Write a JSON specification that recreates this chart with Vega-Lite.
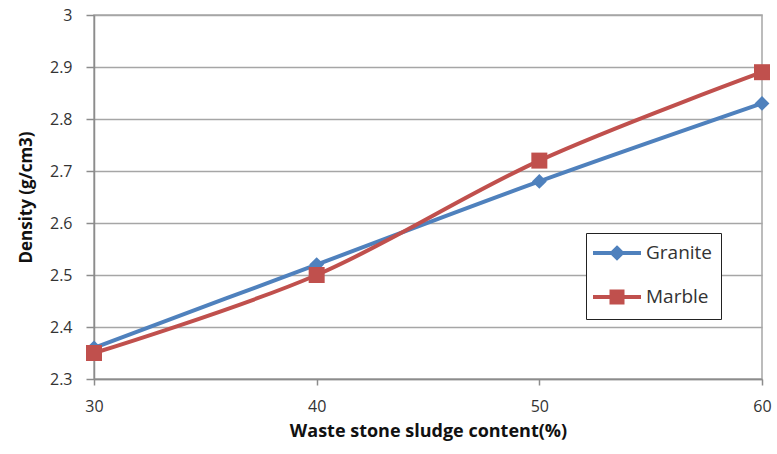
{
  "$schema": "https://vega.github.io/schema/vega-lite/v6.json",
  "width": 668,
  "height": 364,
  "autosize": {"type": "none"},
  "padding": {"left": 94, "top": 15, "right": 15, "bottom": 75},
  "background": "white",
  "config": {
    "font": "Open Sans",
    "view": {"stroke": "#a6a6a6", "strokeWidth": 1.5},
    "axis": {
      "labelFont": "Open Sans",
      "labelFontSize": 16,
      "labelColor": "#333333",
      "titleFont": "Open Sans",
      "titleFontSize": 18,
      "titleFontWeight": "bold",
      "titleColor": "#111111",
      "domainColor": "#8c8c8c",
      "domainWidth": 1.5,
      "tickColor": "#8c8c8c",
      "tickWidth": 1.5,
      "gridColor": "#a6a6a6",
      "gridWidth": 1.5
    }
  },
  "data": {
    "values": [
      {"content": 30, "density": 2.36, "series": "Granite"},
      {"content": 40, "density": 2.52, "series": "Granite"},
      {"content": 50, "density": 2.68, "series": "Granite"},
      {"content": 60, "density": 2.83, "series": "Granite"},
      {"content": 30, "density": 2.35, "series": "Marble"},
      {"content": 40, "density": 2.50, "series": "Marble"},
      {"content": 50, "density": 2.72, "series": "Marble"},
      {"content": 60, "density": 2.89, "series": "Marble"}
    ]
  },
  "encoding": {
    "x": {
      "field": "content",
      "type": "quantitative",
      "scale": {"domain": [30, 60], "nice": false, "zero": false},
      "axis": {
        "values": [30, 40, 50, 60],
        "grid": false,
        "tickSize": 6,
        "labelFlush": false,
        "labelPadding": 13,
        "titlePadding": 8,
        "title": "Waste stone sludge content(%)"
      }
    },
    "y": {
      "field": "density",
      "type": "quantitative",
      "scale": {"domain": [2.3, 3], "nice": false, "zero": false},
      "axis": {
        "values": [2.3, 2.4, 2.5, 2.6, 2.7, 2.8, 2.9, 3],
        "format": ".1~f",
        "tickSize": 8,
        "labelFlush": false,
        "labelPadding": 14,
        "titlePadding": 14,
        "titleFontSize": 17,
        "title": "Density (g/cm3)"
      }
    },
    "color": {
      "field": "series",
      "type": "nominal",
      "scale": {"domain": ["Granite", "Marble"], "range": ["#4F81BD", "#C0504D"]},
      "legend": {
        "title": null,
        "orient": "none",
        "legendX": 492,
        "legendY": 218,
        "direction": "vertical",
        "strokeColor": "#222222",
        "fillColor": "white",
        "padding": 8,
        "rowPadding": 17,
        "symbolSize": 400,
        "symbolStrokeWidth": 4,
        "symbolOffset": 11,
        "labelOffset": 17,
        "labelFont": "Open Sans",
        "labelFontSize": 19,
        "labelColor": "#333333",
        "encode": {
          "symbols": {
            "update": {
              "shape": {"signal": "datum.value === 'Granite' ? 'M-2.4,0H2.4M0,-0.5L0.5,0L0,0.5L-0.5,0Z' : 'M-2.4,0H2.4M-0.55,-0.55H0.55V0.55H-0.55Z'"},
              "stroke": {"signal": "datum.value === 'Granite' ? '#4F81BD' : '#C0504D'"},
              "fill": {"signal": "datum.value === 'Granite' ? '#4F81BD' : '#C0504D'"},
              "strokeWidth": {"value": 4},
              "opacity": {"value": 1}
            }
          }
        }
      }
    }
  },
  "layer": [
    {
      "mark": {"type": "line", "strokeWidth": 4, "interpolate": "cardinal"}
    },
    {
      "transform": [{"filter": "datum.series === 'Granite'"}],
      "mark": {"type": "point", "filled": true, "opacity": 1, "shape": "diamond", "size": 220}
    },
    {
      "transform": [{"filter": "datum.series === 'Marble'"}],
      "mark": {"type": "point", "filled": true, "opacity": 1, "shape": "square", "size": 256}
    }
  ]
}
